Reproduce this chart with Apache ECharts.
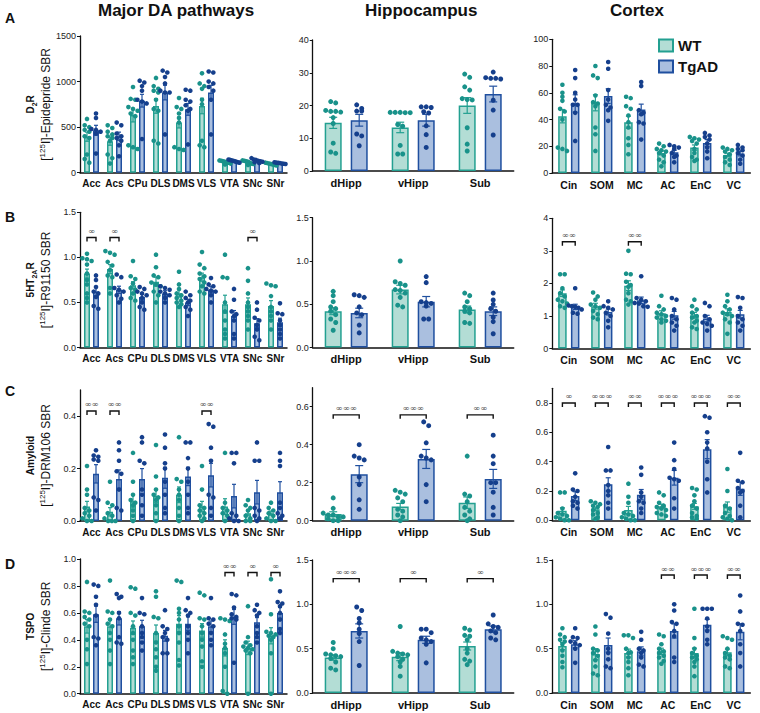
<!DOCTYPE html>
<html><head><meta charset="utf-8">
<script src="https://cdn.jsdelivr.net/npm/echarts@6/dist/echarts.min.js"></script>
<style>html,body{margin:0;padding:0;background:#fff}#c{width:760px;height:713px}</style>
</head><body><div id="c"></div>
<script>
// ---------------- categories / groups ----------------
const daCats = ['Acc','Acs','CPu','DLS','DMS','VLS','VTA','SNc','SNr'];
const hipCats = ['dHipp','vHipp','Sub'];
const ctxCats = ['Cin','SOM','MC','AC','EnC','VC'];
const groupNames = ['WT','TgAD'];
const colTitles = ['Major DA pathways','Hippocampus','Cortex'];
const rowLetters = ['A','B','C','D'];

// ---------------- tick values / labels ----------------
const ticksA1=[0,500,1000,1500], labelsA1=['0','500','1000','1500'];
const ticksA2=[0,10,20,30,40], labelsA2=['0','10','20','30','40'];
const ticksA3=[0,20,40,60,80,100], labelsA3=['0','20','40','60','80','100'];
const ticksB1=[0,0.5,1,1.5], labelsB1=['0.0','0.5','1.0','1.5'];
const ticksB2=[0,0.5,1,1.5], labelsB2=['0.0','0.5','1.0','1.5'];
const ticksB3=[0,1,2,3,4], labelsB3=['0','1','2','3','4'];
const ticksC1=[0,0.2,0.4], labelsC1=['0.0','0.2','0.4'];
const ticksC2=[0,0.2,0.4,0.6], labelsC2=['0.0','0.2','0.4','0.6'];
const ticksC3=[0,0.2,0.4,0.6,0.8], labelsC3=['0.0','0.2','0.4','0.6','0.8'];
const ticksD1=[0,0.2,0.4,0.6,0.8,1.0], labelsD1=['0.0','0.2','0.4','0.6','0.8','1.0'];
const ticksD2=[0,0.5,1,1.5], labelsD2=['0.0','0.5','1.0','1.5'];
const ticksD3=[0,0.5,1,1.5], labelsD3=['0.0','0.5','1.0','1.5'];
const axisMax = [[1500,40,100],[1.5,1.5,4],[0.5,0.7,0.9],[1.0,1.5,1.5]];

// ---------------- Row A : D2R ----------------
const A1_WT_mean=[395,346,632,732,551,732,120,118,100];
const A1_WT_sem=[50,45,75,80,60,85,7,8,6];
const A1_Tg_mean=[465,400,790,879,695,879,128,130,105];
const A1_Tg_sem=[55,45,70,80,65,80,7,9,5];
const A1_WT_pts=[[590,520,500,470,450,400,380,200,150,110],[520,490,450,420,400,380,350,200,160,100],[940,810,800,720,700,680,650,620,300,280,260],[1040,950,920,900,880,800,700,680,350,320],[820,720,700,650,600,550,280,260,250],[1090,980,950,920,800,750,350,300,280],[135,130,125,120,115,110,100,90],[135,130,125,120,110,100,95,85],[110,105,100,95,90,85,80]];
const A1_Tg_pts=[[650,600,480,470,450,430,210],[550,520,430,400,380,350,300,180],[1010,990,950,900,800,780,760,370],[1120,1100,1050,980,880,900,880,420],[910,900,800,780,740,700,680,310],[1110,1100,1000,980,940,900,800,420],[145,140,135,130,125,120,115,110],[160,145,140,130,125,120,115,105],[115,110,108,105,100,98,95]];
const A1_sig=[];

const A2_WT_mean=[14.7,13.3,20.0], A2_WT_sem=[1.7,1.6,2.4];
const A2_Tg_mean=[15.5,15.5,23.5], A2_Tg_sem=[1.8,1.8,2.4];
const A2_WT_pts=[[21.2,20.8,18.2,18.2,18.0,18.5,16.3,14.5,8.5,5.8,5.4],[17.8,17.8,17.9,17.9,17.9,14.2,13.7,7.8,5.2,5.2],[29.6,28.6,25.7,24.7,22.1,21.8,21.7,13.2,8.2,6.1]];
const A2_Tg_pts=[[20.2,19.1,18.3,18.3,11.3,10.7,7.7],[19.6,19.4,19.6,18.1,17.7,13.8,11.1,7.2],[30.2,28.3,28.3,28.1,28.5,21.6,18.6,11]];
const A2_sig=[];

const A3_WT_mean=[42.5,52.5,38,15,19,13.5], A3_WT_sem=[5,6,4.5,1.5,2,1.3];
const A3_Tg_mean=[52,57.5,47.5,15.5,22.5,14.5], A3_Tg_sem=[6.5,5.5,4,1.5,2.5,1.7];
const A3_WT_pts=[[66,60,57,54,48,46,40,19,18,16.5],[80,73,71,58,53,52,50,34,29,16.5],[57,56,50,48,43,38,34,26,21,14],[22,20,18,17,16,15,13,10,8,5],[27,26,25,24,22,18,15,12,10,9],[19,18,17,16,14,12,10,8,6]];
const A3_Tg_pts=[[77,71,60,55,51,51,45,24],[83,78,62,55,51,49,47,39],[68,65,47,45,44,38,37,25],[21,20,19,18,15,13,12,8],[30,28,27,25,22,19,16,11],[21,19,18,17,15,13,10,7]];
const A3_sig=[];

// ---------------- Row B : 5HT2AR ----------------
const B1_WT_mean=[0.82,0.87,0.69,0.73,0.6,0.78,0.48,0.48,0.46];
const B1_WT_sem=[0.05,0.05,0.04,0.05,0.04,0.045,0.1,0.07,0.06];
const B1_Tg_mean=[0.62,0.64,0.56,0.6,0.5,0.64,0.35,0.27,0.28];
const B1_Tg_sem=[0.045,0.04,0.035,0.03,0.035,0.035,0.06,0.05,0.045];
const B1_WT_pts=[[1.04,0.99,0.98,0.96,0.92,0.82,0.75,0.7,0.6,0.55,0.5],[1.07,1.05,1.03,0.95,0.91,0.86,0.8,0.78,0.66,0.6],[0.96,0.79,0.76,0.71,0.66,0.64,0.6,0.55,0.52],[1.03,0.89,0.8,0.78,0.72,0.7,0.68,0.62,0.58,0.5],[0.84,0.7,0.65,0.6,0.58,0.55,0.52,0.5,0.48,0.45],[1.06,0.92,0.88,0.82,0.79,0.76,0.72,0.68,0.62,0.6],[1.03,0.78,0.77,0.5,0.4,0.3,0.2,0.15,0.1],[0.88,0.74,0.6,0.5,0.45,0.4,0.35,0.3,0.2],[0.71,0.69,0.68,0.57,0.45,0.4,0.35,0.3,0.2]];
const B1_Tg_pts=[[0.8,0.75,0.67,0.62,0.6,0.56,0.46,0.43],[0.81,0.78,0.66,0.64,0.62,0.58,0.54,0.5],[0.67,0.65,0.62,0.6,0.58,0.55,0.5,0.45,0.42],[0.68,0.66,0.64,0.62,0.6,0.58,0.55,0.5],[0.62,0.58,0.55,0.52,0.5,0.45,0.42,0.35],[0.77,0.7,0.68,0.65,0.63,0.62,0.58,0.5],[0.65,0.53,0.4,0.37,0.35,0.3,0.15,0.1],[0.5,0.42,0.33,0.3,0.25,0.2,0.12,0.08],[0.49,0.38,0.37,0.3,0.25,0.2,0.15,0.1]];
const B1_sig=[[0,1.22,'∞'],[1,1.22,'∞'],[7,1.22,'∞']];

const B2_WT_mean=[0.42,0.67,0.44], B2_WT_sem=[0.04,0.05,0.04];
const B2_Tg_mean=[0.40,0.53,0.42], B2_Tg_sem=[0.055,0.06,0.05];
const B2_WT_pts=[[0.65,0.6,0.53,0.47,0.45,0.42,0.38,0.33,0.29,0.2],[1.0,0.76,0.74,0.72,0.67,0.66,0.63,0.58,0.49,0.47],[0.63,0.6,0.53,0.47,0.45,0.42,0.4,0.29,0.28]];
const B2_Tg_pts=[[0.61,0.6,0.58,0.47,0.4,0.38,0.26,0.17],[0.82,0.75,0.53,0.52,0.51,0.48,0.33,0.33],[0.63,0.55,0.5,0.45,0.42,0.35,0.3,0.16]];
const B2_sig=[];

const B3_WT_mean=[1.7,1.3,1.93,1.08,1.02,1.12], B3_WT_sem=[0.1,0.09,0.15,0.08,0.09,0.1];
const B3_Tg_mean=[1.28,1.12,1.48,1.02,0.92,1.05], B3_Tg_sem=[0.08,0.09,0.1,0.12,0.1,0.12];
const B3_WT_pts=[[2.28,2.28,1.85,1.7,1.6,1.5,1.45,1.38,1.3,1.25],[1.72,1.6,1.5,1.35,1.3,1.25,1.15,1.05,0.95,0.9],[3.0,2.3,2.28,2.05,1.95,1.9,1.7,1.5,1.45,1.35],[1.62,1.3,1.2,1.1,1.05,1.0,0.95,0.9,0.85,0.8],[1.5,1.3,1.2,1.1,1.0,0.95,0.85,0.8,0.65,0.6],[1.65,1.45,1.3,1.2,1.1,1.05,1.0,0.9,0.8,0.45]];
const B3_Tg_pts=[[1.85,1.32,1.3,1.28,1.25,1.2,1.1,1.07],[1.45,1.3,1.25,1.2,1.1,1.0,0.85,0.65],[2.22,1.55,1.5,1.45,1.4,1.38,1.3,1.28],[1.55,1.5,1.2,1.0,0.9,0.8,0.7,0.55],[1.4,1.3,1.0,0.9,0.8,0.75,0.7,0.55],[1.58,1.55,1.25,1.0,0.9,0.8,0.7,0.55]];
const B3_sig=[[0,3.28,'∞∞'],[2,3.28,'∞∞']];

// ---------------- Row C : Amyloid ----------------
const C1_WT_mean=[0.055,0.035,0.075,0.095,0.1,0.055,0.055,0.03,0.03];
const C1_WT_sem=[0.02,0.016,0.025,0.025,0.03,0.02,0.03,0.01,0.008];
const C1_Tg_mean=[0.18,0.16,0.16,0.165,0.17,0.175,0.095,0.11,0.11];
const C1_Tg_sem=[0.035,0.035,0.04,0.04,0.035,0.045,0.045,0.045,0.04];
const C1_WT_pts=[[0.21,0.12,0.1,0.05,0.04,0.03,0.02,0.01,0.0,0.0],[0.15,0.07,0.06,0.03,0.02,0.01,0.0,0.0,0.0],[0.26,0.15,0.1,0.08,0.07,0.06,0.04,0.02,0.0],[0.29,0.17,0.12,0.1,0.09,0.08,0.06,0.03,0.0],[0.32,0.16,0.15,0.12,0.1,0.08,0.05,0.02,0.0],[0.21,0.12,0.06,0.05,0.04,0.03,0.02,0.01,0.0],[0.26,0.07,0.05,0.04,0.03,0.02,0.0],[0.08,0.06,0.05,0.04,0.02,0.01,0.0,0.0],[0.07,0.05,0.04,0.03,0.02,0.01,0.0,0.0]];
const C1_Tg_pts=[[0.27,0.25,0.245,0.235,0.23,0.09,0.08,0.04],[0.3,0.27,0.23,0.19,0.18,0.12,0.05,0.04],[0.32,0.3,0.23,0.22,0.12,0.1,0.06,0.02],[0.33,0.28,0.22,0.2,0.15,0.1,0.05,0.03],[0.3,0.3,0.24,0.2,0.15,0.1,0.05,0.03],[0.37,0.36,0.28,0.23,0.1,0.09,0.05,0.02],[0.26,0.26,0.22,0.03,0.02,0.01,0.0,0.0],[0.3,0.23,0.23,0.05,0.04,0.02,0.01,0.0],[0.26,0.23,0.21,0.07,0.05,0.03,0.02,0.01]];
const C1_sig=[[0,0.42,'∞∞'],[1,0.42,'∞∞'],[5,0.42,'∞∞']];

const C2_WT_mean=[0.035,0.075,0.095], C2_WT_sem=[0.012,0.016,0.03];
const C2_Tg_mean=[0.245,0.325,0.22], C2_Tg_sem=[0.045,0.05,0.05];
const C2_WT_pts=[[0.12,0.065,0.04,0.03,0.03,0.02,0.02,0.01,0.0,0.0],[0.16,0.15,0.14,0.12,0.1,0.06,0.05,0.03,0.02,0.0],[0.34,0.14,0.13,0.1,0.07,0.05,0.03,0.01,0.0]];
const C2_Tg_pts=[[0.4,0.34,0.33,0.32,0.23,0.19,0.11,0.06],[0.52,0.5,0.41,0.34,0.33,0.32,0.19,0.1],[0.45,0.34,0.3,0.2,0.2,0.15,0.07,0.03]];
const C2_sig=[[0,0.557,'∞∞∞'],[1,0.557,'∞∞∞'],[2,0.557,'∞∞']];

const C3_WT_mean=[0.065,0.075,0.07,0.095,0.095,0.09], C3_WT_sem=[0.02,0.01,0.025,0.015,0.02,0.035];
const C3_Tg_mean=[0.165,0.245,0.175,0.29,0.485,0.215], C3_Tg_sem=[0.03,0.045,0.035,0.05,0.065,0.045];
const C3_WT_pts=[[0.19,0.19,0.08,0.05,0.04,0.03,0.02,0.01,0.0,0.0],[0.13,0.12,0.11,0.1,0.09,0.07,0.05,0.04,0.02,0.01],[0.25,0.16,0.12,0.05,0.04,0.03,0.02,0.01,0.0,0.0],[0.19,0.17,0.12,0.1,0.09,0.08,0.07,0.05,0.04,0.03],[0.22,0.21,0.17,0.13,0.1,0.08,0.05,0.03,0.02,0.01],[0.35,0.2,0.1,0.08,0.05,0.03,0.02,0.01,0.0]];
const C3_Tg_pts=[[0.32,0.21,0.2,0.16,0.13,0.12,0.1,0.08],[0.5,0.34,0.34,0.24,0.2,0.17,0.12,0.08],[0.36,0.31,0.19,0.16,0.13,0.12,0.08,0.05],[0.53,0.41,0.35,0.29,0.28,0.27,0.15,0.08],[0.71,0.7,0.6,0.53,0.49,0.4,0.28,0.19],[0.46,0.27,0.26,0.22,0.2,0.19,0.1,0.02]];
const C3_sig=[[0,0.8,'∞'],[1,0.8,'∞∞∞'],[2,0.8,'∞∞'],[3,0.8,'∞∞∞'],[4,0.8,'∞∞∞'],[5,0.8,'∞∞']];

// ---------------- Row D : TSPO ----------------
const D1_WT_mean=[0.5,0.5,0.49,0.45,0.52,0.47,0.34,0.34,0.43];
const D1_WT_sem=[0.05,0.05,0.05,0.06,0.06,0.05,0.06,0.05,0.06];
const D1_Tg_mean=[0.59,0.56,0.5,0.43,0.52,0.5,0.57,0.53,0.6];
const D1_Tg_sem=[0.06,0.05,0.045,0.04,0.05,0.04,0.055,0.035,0.04];
const D1_WT_pts=[[0.83,0.61,0.6,0.57,0.55,0.52,0.5,0.4,0.33,0.22],[0.84,0.61,0.6,0.55,0.52,0.5,0.45,0.4,0.32,0.22],[0.79,0.78,0.6,0.58,0.5,0.45,0.4,0.32,0.27,0.22],[0.76,0.72,0.57,0.56,0.45,0.38,0.33,0.27,0.2,0.17],[0.84,0.83,0.63,0.6,0.55,0.5,0.45,0.38,0.25,0.21],[0.75,0.73,0.56,0.55,0.5,0.45,0.4,0.35,0.24,0.2],[0.56,0.55,0.54,0.44,0.37,0.34,0.3,0.2,0.02,0.0],[0.65,0.42,0.38,0.36,0.35,0.34,0.33,0.32,0.3,0.0],[0.85,0.59,0.46,0.45,0.44,0.43,0.42,0.4,0.3,0.0]];
const D1_Tg_pts=[[0.81,0.8,0.72,0.66,0.58,0.42,0.41,0.36],[0.74,0.72,0.71,0.6,0.56,0.42,0.38,0.37],[0.71,0.6,0.59,0.5,0.45,0.42,0.38,0.32],[0.62,0.5,0.48,0.45,0.42,0.4,0.3,0.3],[0.71,0.62,0.6,0.58,0.5,0.45,0.4,0.3],[0.71,0.56,0.55,0.52,0.5,0.45,0.4,0.36],[0.74,0.73,0.64,0.59,0.57,0.56,0.55,0.23],[0.66,0.62,0.6,0.58,0.5,0.45,0.42,0.38],[0.76,0.68,0.67,0.65,0.6,0.55,0.48,0.45]];
const D1_sig=[[6,0.9,'∞∞'],[7,0.9,'∞'],[8,0.9,'∞']];

const D2_WT_mean=[0.4,0.41,0.53], D2_WT_sem=[0.03,0.045,0.045];
const D2_Tg_mean=[0.7,0.6,0.72], D2_Tg_sem=[0.08,0.04,0.035];
const D2_WT_pts=[[0.57,0.5,0.44,0.43,0.42,0.41,0.39,0.35,0.28,0.26],[0.75,0.47,0.45,0.44,0.43,0.41,0.38,0.35,0.3,0.19],[0.73,0.71,0.65,0.64,0.6,0.5,0.45,0.38,0.36,0.32]];
const D2_Tg_pts=[[0.97,0.93,0.84,0.79,0.72,0.67,0.58,0.31],[0.72,0.72,0.68,0.62,0.6,0.58,0.55,0.34],[0.88,0.78,0.75,0.74,0.7,0.68,0.62,0.6]];
const D2_sig=[[0,1.29,'∞∞∞'],[1,1.29,'∞'],[2,1.29,'∞']];

const D3_WT_mean=[0.53,0.44,0.45,0.47,0.45,0.46], D3_WT_sem=[0.04,0.06,0.045,0.035,0.055,0.035];
const D3_Tg_mean=[0.55,0.54,0.47,0.7,0.77,0.69], D3_Tg_sem=[0.04,0.08,0.05,0.08,0.06,0.09];
const D3_WT_pts=[[0.73,0.66,0.63,0.6,0.58,0.55,0.48,0.42,0.35,0.29],[0.75,0.66,0.5,0.48,0.45,0.42,0.37,0.3,0.22,0.2],[0.65,0.65,0.62,0.5,0.46,0.45,0.4,0.35,0.28,0.2],[0.66,0.64,0.55,0.5,0.47,0.45,0.42,0.4,0.36,0.33],[0.95,0.62,0.5,0.45,0.42,0.4,0.38,0.35,0.3,0.19],[0.64,0.62,0.6,0.5,0.45,0.42,0.4,0.38,0.3,0.28]];
const D3_Tg_pts=[[0.73,0.63,0.62,0.58,0.56,0.54,0.5,0.34],[0.89,0.85,0.67,0.5,0.45,0.38,0.3,0.28],[0.69,0.6,0.5,0.48,0.45,0.4,0.32,0.3],[1.0,0.93,0.8,0.78,0.7,0.64,0.4,0.35],[0.95,0.95,0.95,0.84,0.75,0.7,0.6,0.55],[1.1,0.92,0.78,0.77,0.7,0.55,0.45,0.3]];
const D3_sig=[[3,1.33,'∞∞'],[4,1.33,'∞∞∞'],[5,1.33,'∞∞']];

// ---------------- assemble panel references ----------------
const catsByCol=[daCats,hipCats,ctxCats];
const panelData=[
 [[A1_WT_mean,A1_WT_sem,A1_WT_pts,A1_Tg_mean,A1_Tg_sem,A1_Tg_pts,A1_sig,ticksA1,labelsA1],
  [A2_WT_mean,A2_WT_sem,A2_WT_pts,A2_Tg_mean,A2_Tg_sem,A2_Tg_pts,A2_sig,ticksA2,labelsA2],
  [A3_WT_mean,A3_WT_sem,A3_WT_pts,A3_Tg_mean,A3_Tg_sem,A3_Tg_pts,A3_sig,ticksA3,labelsA3]],
 [[B1_WT_mean,B1_WT_sem,B1_WT_pts,B1_Tg_mean,B1_Tg_sem,B1_Tg_pts,B1_sig,ticksB1,labelsB1],
  [B2_WT_mean,B2_WT_sem,B2_WT_pts,B2_Tg_mean,B2_Tg_sem,B2_Tg_pts,B2_sig,ticksB2,labelsB2],
  [B3_WT_mean,B3_WT_sem,B3_WT_pts,B3_Tg_mean,B3_Tg_sem,B3_Tg_pts,B3_sig,ticksB3,labelsB3]],
 [[C1_WT_mean,C1_WT_sem,C1_WT_pts,C1_Tg_mean,C1_Tg_sem,C1_Tg_pts,C1_sig,ticksC1,labelsC1],
  [C2_WT_mean,C2_WT_sem,C2_WT_pts,C2_Tg_mean,C2_Tg_sem,C2_Tg_pts,C2_sig,ticksC2,labelsC2],
  [C3_WT_mean,C3_WT_sem,C3_WT_pts,C3_Tg_mean,C3_Tg_sem,C3_Tg_pts,C3_sig,ticksC3,labelsC3]],
 [[D1_WT_mean,D1_WT_sem,D1_WT_pts,D1_Tg_mean,D1_Tg_sem,D1_Tg_pts,D1_sig,ticksD1,labelsD1],
  [D2_WT_mean,D2_WT_sem,D2_WT_pts,D2_Tg_mean,D2_Tg_sem,D2_Tg_pts,D2_sig,ticksD2,labelsD2],
  [D3_WT_mean,D3_WT_sem,D3_WT_pts,D3_Tg_mean,D3_Tg_sem,D3_Tg_pts,D3_sig,ticksD3,labelsD3]]
];
// y-axis titles (rich text)
const yTitles=[
 '{b|D}{bs|2}{b|R}\n{s|[}{sup|125}{s|I]-Epidepride SBR}',
 '{b|5HT}{bs|2A}{b|R}\n{s|[}{sup|125}{s|I]-R91150 SBR}',
 '{b|Amyloid}\n{s|[}{sup|125}{s|I]-DRM106 SBR}',
 '{b|TSPO}\n{s|[}{sup|125}{s|I]-Clinde SBR}'
];

// ---------------- layout / style ----------------
const FONT='"Liberation Sans", Arial, Helvetica, sans-serif';
const colLeft=[80,312.7,552.3], colWidth=[207,201,198];
const rowBox=[[[36,172.7],[40,171],[39.3,173]],[[212.3,347.5],[217.7,347.6],[218.3,348.5]],[[390,521],[387.7,520.7],[388.3,520.3]],[[559,693.7],[560,693],[560,693]]];
const colStyle=[{w:6,gap:'50%',off:4.5,cap:4,dot:4.6,spread:11,fs:10,sigOff:4.5},{w:17,gap:'53%',off:13,cap:8,dot:5,spread:26,fs:11,sigOff:13},{w:8.5,gap:'50%',off:6.4,cap:5,dot:4.6,spread:13,fs:10.5,sigOff:6.4}];
const WT={fill:'#b3ddd5',border:'#23a091',dot:'#19928a'};
const TG={fill:'#aabfdf',border:'#1f4f9f',dot:'#153f8c'};

function swarm(vals, pxPerUnit, dot, spread){
  const s=vals.map(v=>v).sort((a,b)=>b-a);
  const rows=[];
  s.forEach(v=>{const r=rows[rows.length-1]; if(r && (r[0]-v)*pxPerUnit < dot*0.85) r.push(v); else rows.push([v]);});
  const out=[];
  rows.forEach(r=>{const n=r.length; let sp=dot; if((n-1)*sp>spread) sp=spread/(n-1);
    r.forEach((v,k)=>out.push([v,(k-(n-1)/2)*sp]));});
  return out;
}

const grids=[],xAxes=[],yAxes=[],series=[];
for(let r=0;r<4;r++){for(let c=0;c<3;c++){
  const k=r*3+c; const box=rowBox[r][c]; const st=colStyle[c];
  const [wm,ws,wp,tm,ts,tp,sig,ticks,labels]=panelData[r][c];
  const max=axisMax[r][c]; const cats=catsByCol[c];
  grids.push({left:colLeft[c],top:box[0],width:colWidth[c],height:box[1]-box[0],containLabel:false});
  xAxes.push({type:'category',gridIndex:k,data:cats,axisLine:{lineStyle:{color:'#111',width:1.5}},axisTick:{show:false},
    axisLabel:{interval:0,fontWeight:'bold',fontSize:st.fs,color:'#111',margin:6,fontFamily:FONT}});
  const ya={type:'value',gridIndex:k,min:0,max:max,splitLine:{show:false},
    axisLine:{show:true,lineStyle:{color:'#111',width:1.3}},
    axisTick:{show:true,length:3,customValues:ticks,lineStyle:{color:'#111',width:1}},
    axisLabel:{customValues:ticks,fontSize:9,color:'#222',margin:4,fontFamily:FONT,
      formatter:(v)=>{let i=ticks.findIndex(t=>Math.abs(t-v)<1e-9);return i>=0?labels[i]:'';}}};
  if(c===0){
    Object.assign(ya,{name:yTitles[r],nameLocation:'middle',nameRotate:90,nameGap:26,
      nameTextStyle:{fontFamily:FONT,color:'#111',rich:{
        b:{fontWeight:'bold',fontSize:10,lineHeight:16,fontFamily:FONT,color:'#111'},
        bs:{fontWeight:'bold',fontSize:7,lineHeight:9,verticalAlign:'bottom',fontFamily:FONT,color:'#111'},
        s:{fontSize:12,lineHeight:16,fontFamily:FONT,color:'#111'},
        sup:{fontSize:8,lineHeight:9,verticalAlign:'top',fontFamily:FONT,color:'#111'}}}});
  }
  yAxes.push(ya);
  const pxPerUnit=(box[1]-box[0])/max;
  [[wm,ws,wp,WT,-1,groupNames[0]],[tm,ts,tp,TG,1,groupNames[1]]].forEach(([m,s,p,col,sgn,name])=>{
    series.push({type:'bar',name:name,xAxisIndex:k,yAxisIndex:k,data:m,barWidth:st.w,barGap:st.gap,z:2,
      itemStyle:{color:col.fill,borderColor:col.border,borderWidth:1.5},silent:true});
  });
  [[wm,ws,wp,WT,-1,groupNames[0]],[tm,ts,tp,TG,1,groupNames[1]]].forEach(([m,s,p,col,sgn,name])=>{
    const off=sgn*st.off;
    series.push({type:'custom',name:name+' SEM',xAxisIndex:k,yAxisIndex:k,z:4,silent:true,
      data:m.map((v,i)=>[i,v,s[i]]),encode:{x:0,y:1},
      renderItem:(params,api)=>{
        const i=api.value(0),mv=api.value(1),sv=api.value(2);
        const t=api.coord([i,mv+sv]),b=api.coord([i,Math.max(0,mv-sv)]);
        const cx=t[0]+off;const ls={stroke:col.border,lineWidth:1.2};
        return {type:'group',children:[
          {type:'line',shape:{x1:cx,y1:t[1],x2:cx,y2:b[1]},style:ls},
          {type:'line',shape:{x1:cx-st.cap/2,y1:t[1],x2:cx+st.cap/2,y2:t[1]},style:ls},
          {type:'line',shape:{x1:cx-st.cap/2,y1:b[1],x2:cx+st.cap/2,y2:b[1]},style:ls}]};
      }});
    const pts=[];
    p.forEach((arr,i)=>{swarm(arr,pxPerUnit,st.dot,st.spread).forEach(([v,dx])=>{
      pts.push({value:[i,v],symbolOffset:[off+dx,0]});});});
    series.push({type:'scatter',name:name+' points',xAxisIndex:k,yAxisIndex:k,z:5,silent:true,
      symbolSize:st.dot,itemStyle:{color:col.dot,opacity:1},data:pts});
  });
  if(sig.length){
    series.push({type:'custom',name:'sig',xAxisIndex:k,yAxisIndex:k,z:6,silent:true,
      data:sig.map(s=>[s[0],s[1]]),encode:{x:0,y:1},
      renderItem:(params,api)=>{
        const p=api.coord([api.value(0),api.value(1)]);
        const x1=p[0]-st.sigOff,x2=p[0]+st.sigOff,y=p[1];
        return {type:'group',children:[
          {type:'polyline',shape:{points:[[x1,y+4],[x1,y],[x2,y],[x2,y+4]]},style:{stroke:'#111',lineWidth:1.4,fill:null}},
          {type:'text',style:{text:sig[params.dataIndex][2],x:p[0],y:y-2,align:'center',verticalAlign:'bottom',
            fontSize:8.5,fill:'#444',fontFamily:'"DejaVu Sans", sans-serif'}}]};
      }});
  }
}}

const titles=[
  {text:colTitles[0],left:98,top:2},{text:colTitles[1],left:365,top:2},{text:colTitles[2],left:610,top:2}
].map(t=>Object.assign(t,{padding:0,textStyle:{fontSize:17,fontWeight:'bold',color:'#111',fontFamily:FONT}}));
const letterTops=[11,210,384,557];
rowLetters.forEach((L,i)=>titles.push({text:L,left:5,top:letterTops[i],padding:0,textStyle:{fontSize:14,fontWeight:'bold',color:'#111',fontFamily:FONT}}));

const chart=echarts.init(document.getElementById('c'),null,{renderer:'svg',width:760,height:713});
chart.setOption({
  animation:false,backgroundColor:'#fff',textStyle:{fontFamily:FONT},
  title:titles,
  legend:{data:groupNames,left:653,top:33,orient:'vertical',itemWidth:14,itemHeight:12,itemGap:6,selectedMode:false,
    icon:'rect',itemStyle:{borderWidth:2},textStyle:{fontSize:15,fontWeight:'bold',color:'#111',fontFamily:FONT}},
  grid:grids,xAxis:xAxes,yAxis:yAxes,series:series
});
</script></body></html>
